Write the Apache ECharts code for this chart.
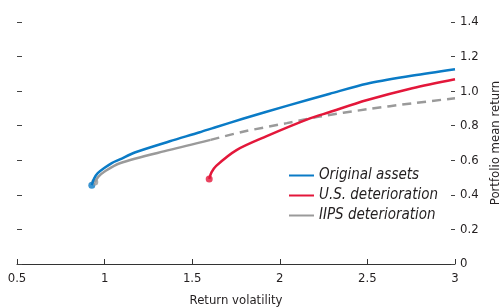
<!DOCTYPE html>
<html>
<head>
<meta charset="utf-8">
<script src="https://cdn.jsdelivr.net/npm/echarts@6/dist/echarts.min.js"></script>
<style>
  html, body { margin: 0; padding: 0; background: #fff; }
  #chart { width: 503px; height: 307px; }
</style>
</head>
<body>
<div id="chart"></div>
<script>
// values: [volatility, mean return]
const originalAssets = [
  [0.927, 0.456], [0.94, 0.495], [0.961, 0.526], [1.0, 0.557], [1.041, 0.584], [1.087, 0.605],
  [1.172, 0.645], [1.372, 0.71], [1.543, 0.762], [1.629, 0.79], [1.789, 0.84], [2.04, 0.915],
  [2.286, 0.985], [2.497, 1.043], [2.76, 1.09], [3.0, 1.127]
];
const usDeterioration = [
  [1.597, 0.492], [1.61, 0.53], [1.637, 0.568], [1.753, 0.659], [1.922, 0.738],
  [2.172, 0.842], [2.282, 0.878], [2.494, 0.947], [2.756, 1.017], [3.0, 1.069]
];
// solid part of the IIPS curve, then dashed part
const iipsSolid = [
  [0.944, 0.474], [0.965, 0.505], [1.0, 0.535], [1.087, 0.583], [1.372, 0.66], [1.605, 0.718]
];
const iipsDashed = [
  [1.605, 0.718], [1.789, 0.765], [2.04, 0.815], [2.228, 0.853],
  [2.497, 0.895], [2.76, 0.93], [3.0, 0.959]
];
const yTicks = [0, 0.2, 0.4, 0.6, 0.8, 1.0, 1.2, 1.4];
const xTicks = [0.5, 1, 1.5, 2, 2.5, 3];

const BLUE = '#0a7bc6';
const RED = '#e3173a';
const GRAY = '#9a9a9a';
const TEXT = '#231f20';
const FONT = '"Liberation Sans Narrow", "DejaVu Sans Condensed", sans-serif';

const chart = echarts.init(document.getElementById('chart'));

const yCommon = {
  type: 'value',
  min: yTicks[0],
  max: yTicks[yTicks.length - 1],
  interval: 0.2,
  splitLine: { show: false },
  axisLine: { show: false }
};

const lineSeries = (name, data, color, dash) => ({
  name: name,
  type: 'line',
  data: data,
  smooth: 0.3,
  symbol: 'none',
  lineStyle: { color: color, width: 2.5, type: dash || 'solid' },
  itemStyle: { color: color }
});

chart.setOption({
  animation: false,
  textStyle: { fontFamily: FONT, color: TEXT },
  grid: { left: 17, right: 48, top: 22, bottom: 43, outerBoundsMode: 'none', containLabel: false },
  legend: {
    data: ['Original assets', 'U.S. deterioration', 'IIPS deterioration'],
    orient: 'vertical',
    left: 283,
    top: 163,
    itemGap: 5,
    itemWidth: 25,
    itemHeight: 14,
    itemStyle: { opacity: 0 },
    textStyle: { fontFamily: FONT, fontStyle: 'italic', fontSize: 15, color: TEXT }
  },
  xAxis: {
    type: 'value',
    min: xTicks[0],
    max: xTicks[xTicks.length - 1],
    interval: 0.5,
    name: 'Return volatility',
    nameLocation: 'middle',
    nameGap: 30,
    nameTextStyle: { fontFamily: FONT, fontSize: 13, color: TEXT },
    splitLine: { show: false },
    axisLine: { lineStyle: { color: '#333', width: 1 } },
    axisTick: { inside: true, length: 5, lineStyle: { color: '#333' } },
    axisLabel: { margin: 8, fontSize: 13, color: TEXT, fontFamily: FONT }
  },
  yAxis: [
    Object.assign({}, yCommon, {
      position: 'left',
      axisTick: { inside: true, length: 5, lineStyle: { color: '#444' } },
      axisLabel: { show: false }
    }),
    Object.assign({}, yCommon, {
      position: 'right',
      name: 'Portfolio mean return',
      nameLocation: 'middle',
      nameRotate: 90,
      nameGap: 33,
      nameTextStyle: { fontFamily: FONT, fontSize: 13, color: TEXT },
      axisTick: { inside: true, length: 4, lineStyle: { color: '#444' } },
      axisLabel: {
        margin: 5, fontSize: 13, color: TEXT, fontFamily: FONT,
        formatter: v => (v === 0 ? '0' : v.toFixed(1))
      }
    })
  ],
  series: [
    lineSeries('IIPS deterioration', iipsSolid, GRAY),
    lineSeries('IIPS deterioration', iipsDashed, GRAY, [9, 6]),
    lineSeries('U.S. deterioration', usDeterioration, RED),
    lineSeries('Original assets', originalAssets, BLUE),
    {
      type: 'scatter',
      symbolSize: 7,
      data: [
        { value: originalAssets[0], itemStyle: { color: BLUE } },
        { value: iipsSolid[0], itemStyle: { color: GRAY } },
        { value: usDeterioration[0], itemStyle: { color: RED } }
      ]
    }
  ]
});
</script>
</body>
</html>
